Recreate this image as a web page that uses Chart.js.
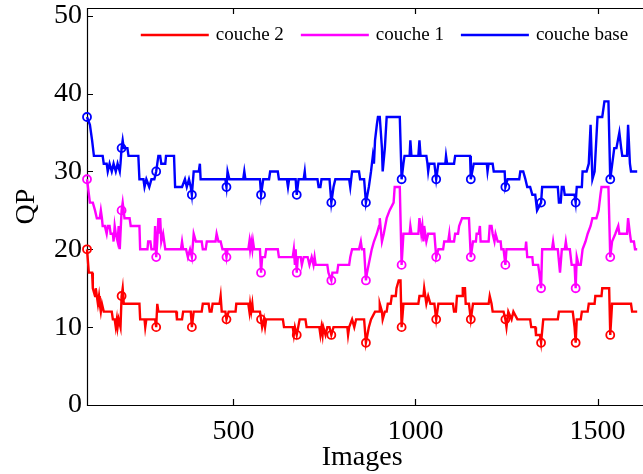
<!DOCTYPE html>
<html>
<head>
<meta charset="utf-8">
<script src="https://cdn.jsdelivr.net/npm/chart.js@4/dist/chart.umd.min.js"></script>
<style>
  html, body { margin: 0; padding: 0; background: #fff; overflow: hidden; }
  #wrap { width: 643px; height: 474px; }
</style>
</head>
<body>
<div id="wrap"><canvas id="c" width="643" height="474"></canvas></div>
<script>
// ---------- data (frame index, QP) ----------
const seriesNames = ['couche 2', 'couche 1', 'couche base'];
const xTickValues = [500, 1000, 1500];
const yTickValues = [0, 10, 20, 30, 40, 50];
const markerFrames = [98, 193, 288, 386, 481, 576, 674, 769, 864, 962, 1057, 1152, 1247, 1345, 1440, 1535];

const baseFrames = [98,106,112,117,141,144,152,155,160,166,171,177,182,188,190,193,196,199,209,212,239,242,253,256,261,269,275,283,288,294,299,302,313,315,337,340,359,367,372,378,383,386,391,405,408,410,478,481,484,489,527,530,533,573,576,582,598,601,622,625,647,650,653,671,674,679,693,696,698,731,734,739,742,764,769,775,780,818,821,826,845,848,859,864,872,878,883,886,889,894,897,902,908,910,916,921,957,962,967,970,984,986,989,1008,1011,1014,1030,1033,1035,1038,1052,1057,1063,1082,1084,1087,1106,1109,1150,1152,1160,1196,1198,1201,1212,1215,1245,1247,1253,1285,1288,1296,1302,1307,1315,1321,1329,1334,1345,1348,1391,1394,1399,1402,1407,1410,1437,1440,1443,1457,1459,1470,1476,1481,1486,1492,1500,1513,1519,1530,1535,1546,1552,1560,1565,1568,1581,1584,1589,1592,1609];
const baseQP = [37,36,34,32,32,31,31,30,31,30,31,30,31,30,31,33,34,33,33,32,32,29,29,28,29,28,29,29,30,32,32,31,31,32,32,28,28,29,28,29,28,27,30,30,31,29,29,28,30,29,29,30,29,29,27,29,29,30,30,29,29,28,29,29,27,29,29,30,29,29,28,28,29,29,26,28,29,29,28,30,30,29,29,26,28,30,32,31,34,36,37,37,33,30,33,37,37,29,31,32,32,34,32,32,34,32,32,31,30,31,31,29,31,31,32,31,31,32,32,29,31,31,30,31,31,30,30,28,29,29,30,30,29,28,28,27,27,25,26,28,28,26,26,28,28,27,27,26,28,28,30,30,31,36,29,30,37,37,39,39,29,33,33,35,33,32,32,36,31,30,30];

const l1Frames = [98,106,114,120,125,133,136,139,141,147,152,155,160,163,169,171,174,177,182,185,188,193,196,201,215,218,242,244,264,266,272,275,283,285,288,291,294,296,299,302,307,313,356,359,362,370,375,381,386,391,397,413,416,424,427,451,454,459,465,470,478,481,484,541,544,546,549,552,554,557,573,576,579,587,590,622,625,663,666,669,671,674,677,685,688,693,704,709,715,720,723,726,758,761,769,772,785,788,818,821,826,845,850,853,859,864,867,880,886,894,900,902,908,913,921,929,940,943,957,962,967,984,986,989,1008,1011,1016,1019,1022,1024,1030,1035,1052,1057,1063,1076,1079,1090,1093,1095,1106,1109,1117,1120,1128,1147,1152,1158,1166,1168,1174,1177,1179,1201,1204,1209,1212,1217,1220,1226,1234,1236,1242,1247,1250,1302,1304,1307,1321,1323,1337,1340,1345,1348,1375,1378,1381,1391,1397,1402,1410,1413,1416,1424,1429,1437,1440,1443,1448,1454,1459,1467,1473,1481,1486,1497,1503,1508,1511,1530,1535,1540,1549,1557,1560,1581,1584,1589,1592,1600,1603,1609];
const l1QP = [29,26,26,25,24,24,25,24,23,23,22,23,23,22,22,21,23,22,21,23,20,25,26,24,24,23,23,20,20,21,21,20,20,23,19,21,24,22,24,21,22,20,20,21,20,20,19,20,19,22,21,21,20,20,21,21,22,21,21,20,20,19,20,20,21,20,21,20,21,20,20,17,19,19,20,20,19,19,20,18,20,17,19,19,18,19,19,18,19,18,19,18,18,17,16,17,17,18,18,19,20,20,21,20,20,16,17,20,21,22,23,24,21,22,24,25,26,28,28,18,22,22,23,22,22,24,22,23,21,23,21,22,22,19,20,20,21,21,22,21,21,22,22,23,24,24,19,21,21,22,22,23,21,21,23,23,22,21,22,21,21,20,20,18,20,20,21,19,19,18,18,17,15,20,20,21,20,20,17,20,20,21,20,20,18,18,15,19,18,18,20,21,22,23,24,24,25,27,28,28,19,21,22,23,22,22,24,22,21,21,20,20];

const l2Frames = [98,103,112,114,120,122,125,128,131,133,136,139,144,166,169,174,177,180,182,185,190,193,196,199,242,244,256,258,261,285,288,291,294,343,345,359,362,383,386,391,413,416,432,435,440,443,462,465,468,478,481,487,506,508,541,544,546,549,552,554,573,576,579,584,587,590,636,639,663,666,669,674,682,698,701,736,739,742,745,747,753,758,764,769,775,813,815,818,826,832,837,859,864,872,878,889,900,902,908,910,916,921,924,932,935,946,948,954,959,962,967,1008,1011,1022,1024,1027,1030,1035,1041,1052,1057,1063,1103,1106,1111,1114,1128,1130,1136,1138,1147,1152,1158,1201,1204,1209,1212,1242,1247,1250,1255,1264,1269,1280,1315,1318,1329,1331,1342,1345,1351,1391,1394,1432,1437,1440,1443,1454,1457,1473,1476,1492,1494,1511,1513,1532,1535,1540,1592,1595,1609];
const l2QP = [20,17,17,15,14,15,14,13,14,13,12,13,12,12,11,11,10,11,10,11,10,14,15,13,13,11,11,10,11,11,10,13,12,12,11,11,12,12,10,12,12,13,13,12,12,13,13,14,12,12,11,12,12,13,13,12,13,12,13,12,12,11,10,11,10,11,11,10,10,9,10,9,11,11,10,10,9,10,9,10,9,10,10,9,10,10,9,10,11,10,11,11,8,10,11,12,12,13,12,11,12,12,13,13,14,14,15,16,16,10,13,13,14,14,15,14,13,14,13,13,11,13,13,12,12,14,14,15,15,13,13,11,13,13,14,13,12,12,11,10,12,11,12,11,11,10,10,9,9,8,11,11,12,12,10,8,11,11,12,12,13,13,14,14,15,15,9,13,13,12,12];

const seriesColors = ['#ff0000', '#ff00ff', '#0000ff'];
const seriesFrames = [l2Frames, l1Frames, baseFrames];
const seriesQP = [l2QP, l1QP, baseQP];

// ---------- chart ----------
const markerSet = new Set(markerFrames);
const serif = "'Liberation Serif', 'Times New Roman', serif";

const datasets = seriesNames.map((name, i) => ({
  label: name,
  data: seriesFrames[i].map((f, k) => ({ x: f, y: seriesQP[i][k] })),
  borderColor: seriesColors[i],
  backgroundColor: seriesColors[i],
  borderWidth: 2.4,
  tension: 0,
  clip: false,
  pointStyle: 'circle',
  pointRadius: ctx => (ctx.raw && markerSet.has(ctx.raw.x)) ? 4 : 0,
  pointHoverRadius: 0,
  pointBorderWidth: 1.8,
  pointBorderColor: seriesColors[i],
  pointBackgroundColor: 'rgba(0,0,0,0)'
}));

const framePlugin = {
  id: 'frame',
  beforeDatasetsDraw(chart) {
    const { ctx, chartArea: a, scales: { x, y } } = chart;
    ctx.save();
    ctx.strokeStyle = '#000';
    ctx.lineWidth = 1.2;
    ctx.beginPath();
    ctx.moveTo(chart.width + 2, a.top + 0.5);
    ctx.lineTo(a.left + 0.5, a.top + 0.5);
    ctx.lineTo(a.left + 0.5, a.bottom + 0.5);
    ctx.lineTo(chart.width + 2, a.bottom + 0.5);
    y.ticks.forEach(t => {
      const py = Math.round(y.getPixelForValue(t.value)) + 0.5;
      ctx.moveTo(a.left, py); ctx.lineTo(a.left + 6, py);
    });
    x.ticks.forEach(t => {
      const px = Math.round(x.getPixelForValue(t.value)) + 0.5;
      ctx.moveTo(px, a.bottom); ctx.lineTo(px, a.bottom - 6);
      ctx.moveTo(px, a.top); ctx.lineTo(px, a.top + 6);
    });
    ctx.stroke();
    ctx.restore();
  }
};

// legend drawn inside the plot, right-aligned, one row
const legendPlugin = {
  id: 'rowLegend',
  afterDatasetsDraw(chart) {
    const { ctx, chartArea: a } = chart;
    const lineLen = 68, gapText = 7, gapItem = 17;
    const right = a.right - 9, cy = a.top + 27;
    ctx.save();
    ctx.font = '19px ' + serif;
    ctx.textBaseline = 'middle';
    ctx.textAlign = 'left';
    let r = right;
    for (let i = chart.data.datasets.length - 1; i >= 0; i--) {
      const ds = chart.data.datasets[i];
      const w = ctx.measureText(ds.label).width;
      const tx = r - w;
      ctx.fillStyle = '#000';
      ctx.fillText(ds.label, tx, cy);
      ctx.strokeStyle = ds.borderColor;
      ctx.lineWidth = 2.4;
      ctx.beginPath();
      ctx.moveTo(tx - gapText - lineLen, cy);
      ctx.lineTo(tx - gapText, cy);
      ctx.stroke();
      r = tx - gapText - lineLen - gapItem;
    }
    ctx.restore();
  }
};

new Chart(document.getElementById('c'), {
  type: 'line',
  data: { datasets },
  plugins: [framePlugin, legendPlugin],
  options: {
    responsive: false,
    animation: false,
    events: [],
    layout: { padding: { top: 8, right: 0, bottom: 0, left: 0 } },
    plugins: {
      tooltip: { enabled: false },
      legend: { display: false }
    },
    scales: {
      x: {
        type: 'linear',
        min: 98,
        max: 1609,
        afterBuildTicks(scale) { scale.ticks = xTickValues.map(v => ({ value: v })); },
        afterFit(scale) { scale.height = 69; scale.paddingLeft = 0; scale.paddingRight = 0; },
        grid: { display: false, drawTicks: false },
        border: { display: false },
        ticks: { font: { family: serif, size: 28 }, color: '#000', padding: 10, maxRotation: 0, autoSkip: false,
                 callback: v => String(v) },
        title: { display: true, text: 'Images', font: { family: serif, size: 28 }, color: '#000', padding: { top: 0, bottom: 0 } }
      },
      y: {
        min: 0,
        max: 51,
        afterBuildTicks(scale) { scale.ticks = yTickValues.map(v => ({ value: v })); },
        afterFit(scale) { scale.width = 87; scale.paddingTop = 0; scale.paddingBottom = 0; },
        grid: { display: false, drawTicks: false },
        border: { display: false },
        ticks: { font: { family: serif, size: 28 }, color: '#000', padding: 5, autoSkip: false,
                 callback: v => String(v) },
        title: { display: true, text: 'QP', font: { family: serif, size: 28 }, color: '#000', padding: { top: 10, bottom: 0 } }
      }
    }
  }
});
</script>
</body>
</html>
